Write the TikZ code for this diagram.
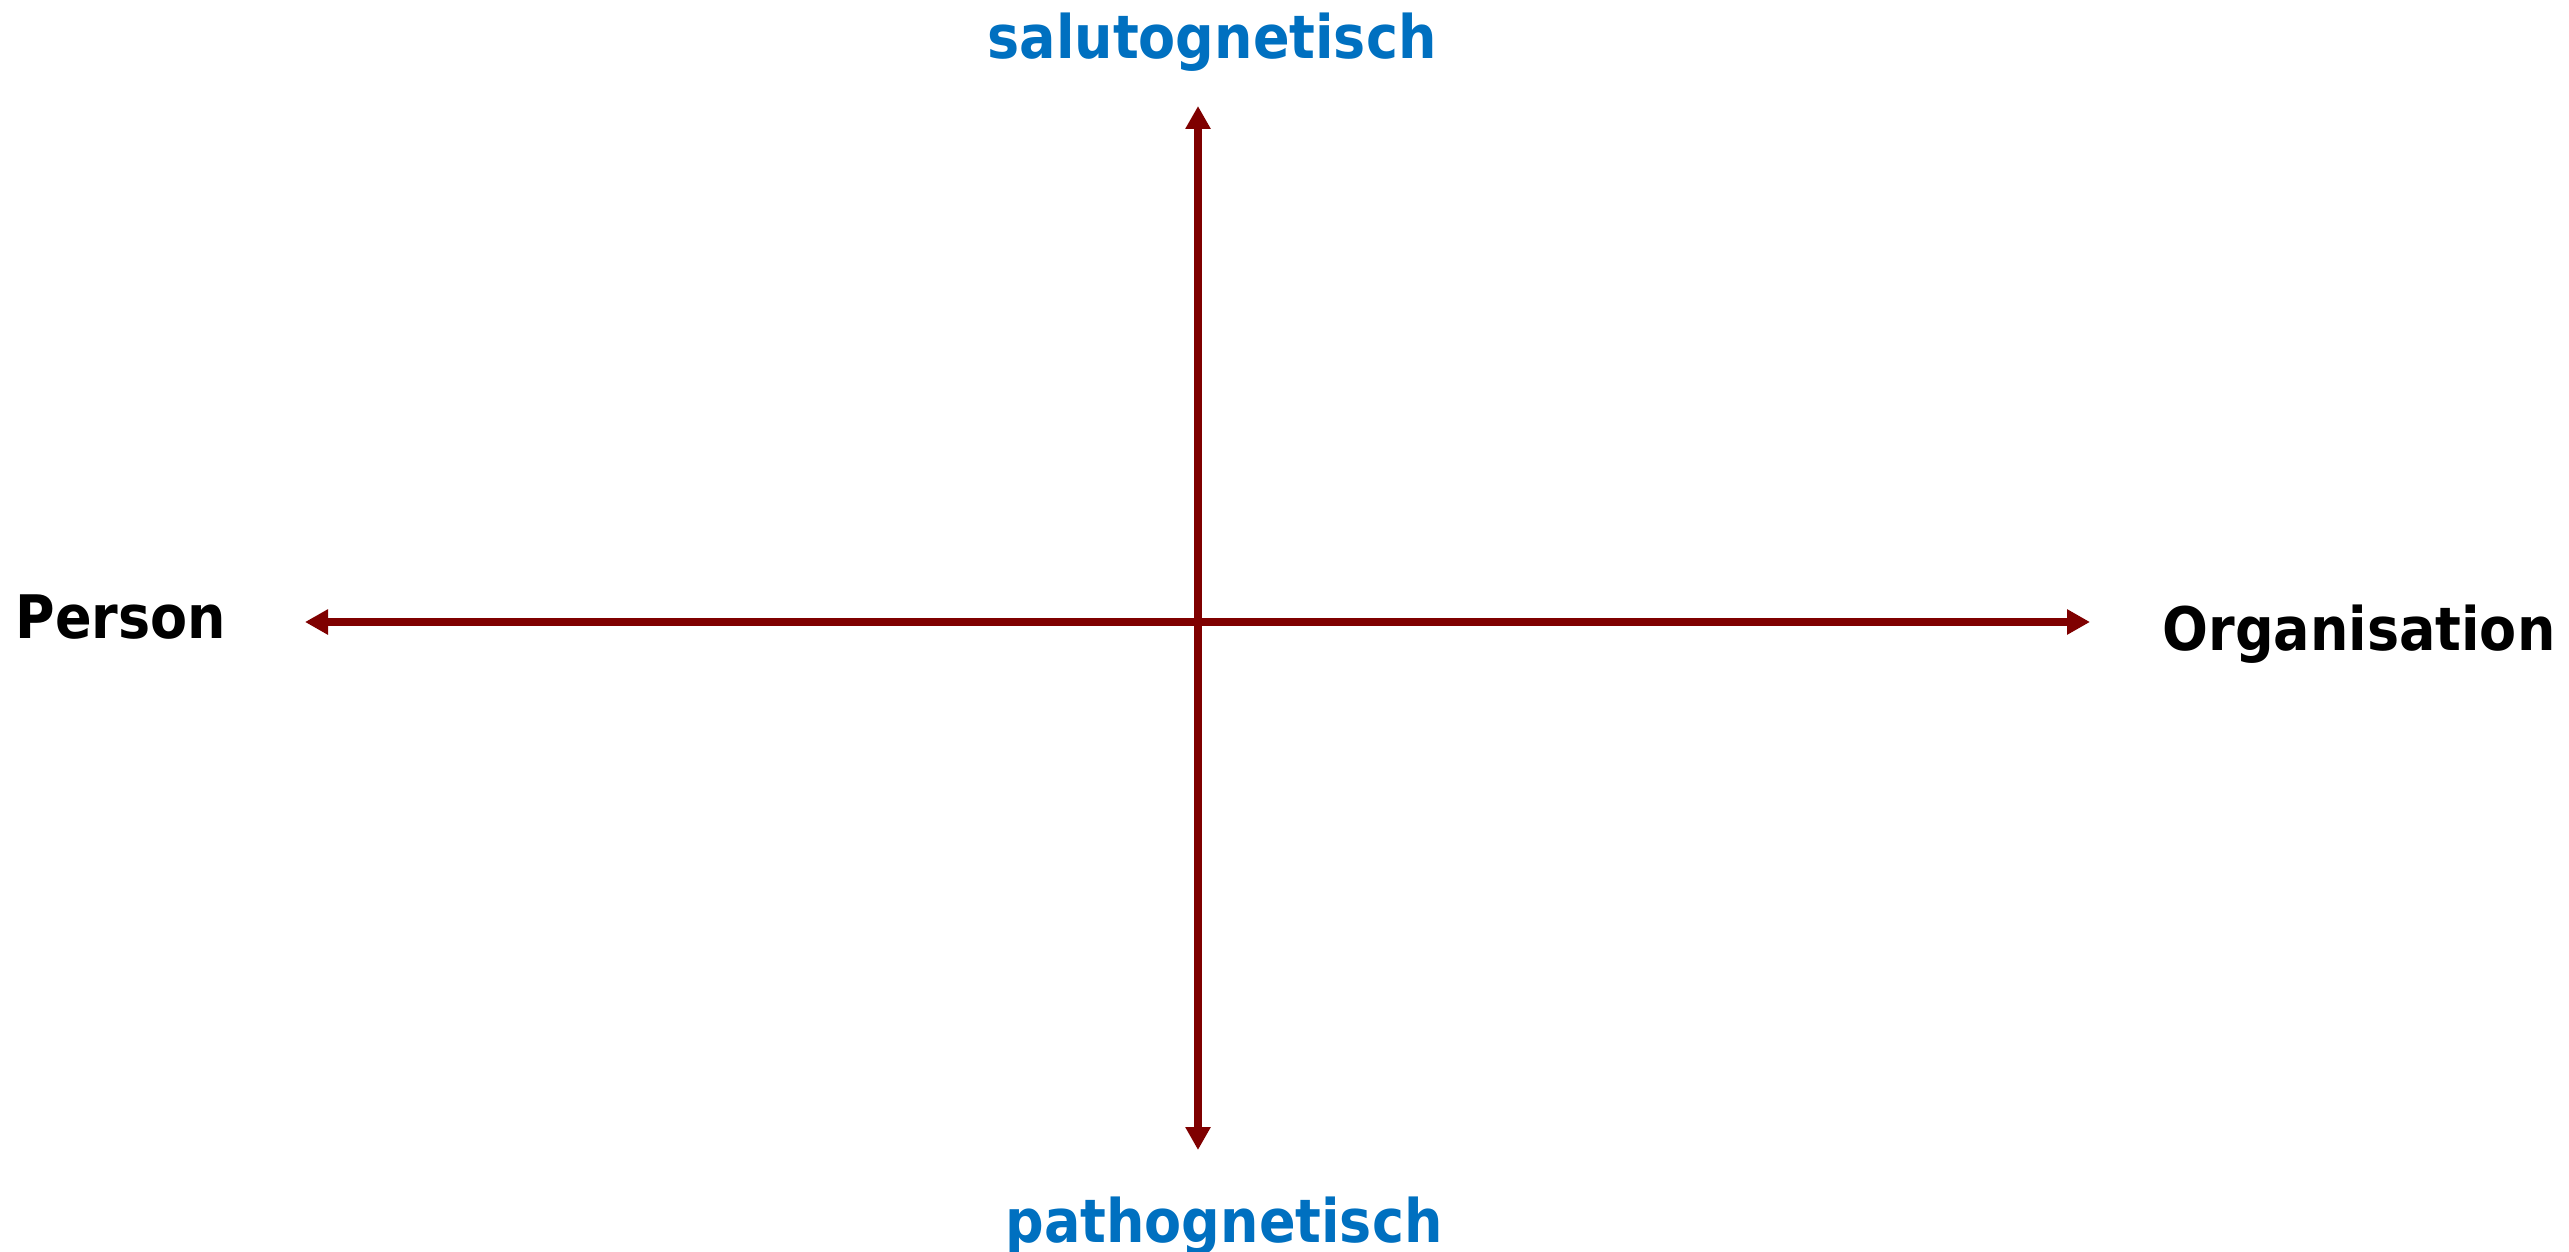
\documentclass[tikz,border=0pt]{standalone}
\usepackage{fontspec}
\setmainfont{DejaVu Sans Condensed}
\usetikzlibrary{arrows.meta}
\definecolor{axisred}{HTML}{7F0000}
\definecolor{labelblue}{HTML}{0070C0}
\begin{document}
\begin{tikzpicture}[x=1pt,y=-1pt,
  axis/.style={draw=axisred,line width=8pt,{Triangle[length=23pt,width=24pt]}-{Triangle[length=23pt,width=24pt]}},
  lbl/.style={font=\fontsize{60}{72}\selectfont\bfseries,inner sep=0pt,anchor=base}]
\useasboundingbox (0,0) rectangle (2569,1252);
\coordinate (top) at (1198,106);
\coordinate (bot) at (1198,1150);
\coordinate (lft) at (305,622);
\coordinate (rgt) at (2090,622);
\draw[axis] (lft) -- (rgt);
\draw[axis] (bot) -- (top);
\node[lbl,text=labelblue] (salu) at (1212,59) {salutognetisch};
\node[lbl,text=labelblue] (patho) at (1224,1242) {pathognetisch};
\node[lbl] (person) at (121,638) {Person};
\node[lbl] (org) at (2359,650) {Organisation};
\end{tikzpicture}
\end{document}
